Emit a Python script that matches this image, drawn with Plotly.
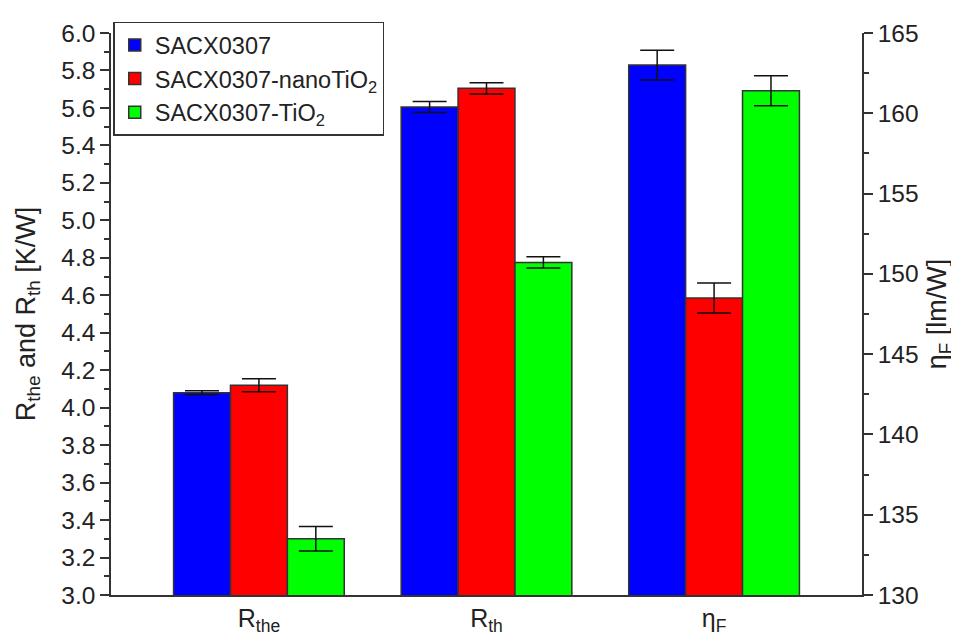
import plotly.graph_objects as go

# ---- data ----
categories = ["R<sub>the</sub>", "R<sub>th</sub>", "η<sub>F</sub>"]
series_names = ["SACX0307", "SACX0307-nanoTiO<sub>2</sub>", "SACX0307-TiO<sub>2</sub>"]

# left axis (K/W): R_the, R_th
r_values = [
    [4.08, 5.605],   # SACX0307
    [4.12, 5.705],   # nanoTiO2
    [3.30, 4.775],   # TiO2
]
r_errors = [
    [0.01, 0.03],
    [0.035, 0.03],
    [0.065, 0.03],
]
# right axis (lm/W): eta_F
eta_values = [163.0, 148.5, 161.4]
eta_errors = [0.93, 0.93, 0.93]

colors = ["#0000FF", "#FF0000", "#00FF00"]
font_family = "Liberation Sans, Arial, sans-serif"
axis_col = "#333333"

fig = go.Figure()
for i, name in enumerate(series_names):
    fig.add_trace(go.Bar(
        x=categories[:2], y=r_values[i], name=name,
        marker=dict(color=colors[i], line=dict(color=axis_col, width=1.5)),
        error_y=dict(type="data", array=r_errors[i], color="#111111", thickness=1.5, width=17),
        offsetgroup=str(i), legendgroup=str(i), yaxis="y",
    ))
for i, name in enumerate(series_names):
    fig.add_trace(go.Bar(
        x=[categories[2]], y=[eta_values[i]], name=name,
        marker=dict(color=colors[i], line=dict(color=axis_col, width=1.5)),
        error_y=dict(type="data", array=[eta_errors[i]], color="#111111", thickness=1.5, width=17),
        offsetgroup=str(i), legendgroup=str(i), yaxis="y2", showlegend=False,
    ))

fig.update_layout(
    width=959, height=640,
    margin=dict(l=103, r=105, t=24, b=45),
    paper_bgcolor="white", plot_bgcolor="white",
    barmode="group", bargap=0.25, bargroupgap=0,
    font=dict(family=font_family, size=24, color="#222222"),
    showlegend=True,
    legend=dict(
        x=0.003, y=1.02, xanchor="left", yanchor="top",
        bgcolor="white", bordercolor=axis_col, borderwidth=1.5,
        font=dict(size=23.5, family=font_family, color="#222222"),
        tracegroupgap=0, itemwidth=30,
    ),
    xaxis=dict(
        type="category", categoryorder="array", categoryarray=categories,
        range=[-0.65, 2.65], showline=True, linecolor=axis_col, linewidth=1.5,
        ticks="", showgrid=False, zeroline=False,
        tickfont=dict(size=25),
    ),
    yaxis=dict(
        range=[3.0, 6.0], dtick=0.2, tick0=3.0, tickformat=".1f",
        showline=True, linecolor=axis_col, linewidth=1.5,
        ticks="outside", ticklen=9, tickwidth=1.5, tickcolor=axis_col,
        minor=dict(dtick=0.1, ticks="outside", ticklen=5, tickwidth=1.5, tickcolor=axis_col),
        showgrid=False, zeroline=False,
        tickfont=dict(size=24.5),
        title=dict(text="R<sub>the</sub> and R<sub>th</sub> [K/W]", font=dict(size=27), standoff=18),
    ),
    yaxis2=dict(
        range=[130, 165], dtick=5, tick0=130, overlaying="y", side="right",
        showline=True, linecolor=axis_col, linewidth=1.5,
        ticks="outside", ticklen=9, tickwidth=1.5, tickcolor=axis_col,
        minor=dict(dtick=2.5, ticks="outside", ticklen=5, tickwidth=1.5, tickcolor=axis_col),
        showgrid=False, zeroline=False,
        tickfont=dict(size=24.5),
        title=dict(text="η<sub>F</sub> [lm/W]", font=dict(size=27), standoff=10),
    ),
)

fig.write_html("out.html")
